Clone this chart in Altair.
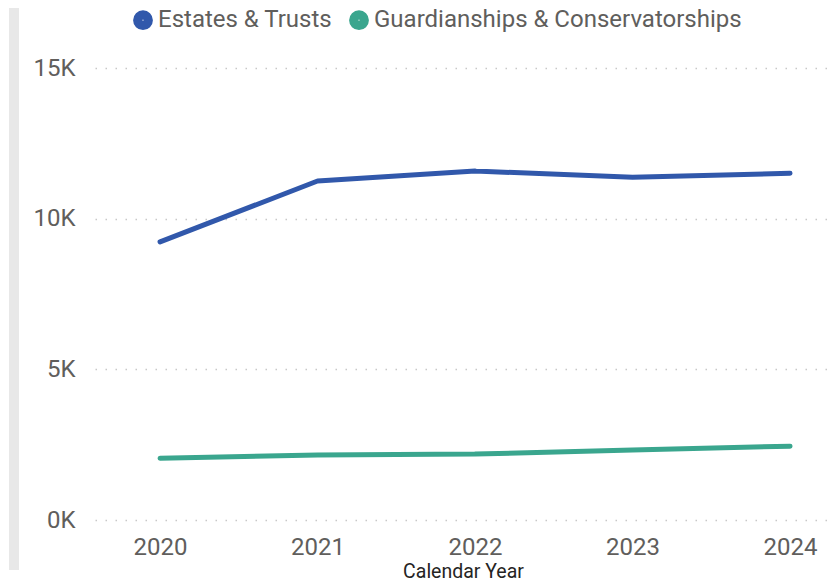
import altair as alt
import pandas as pd

years = [2020, 2021, 2022, 2023, 2024]
estates = [9230, 11250, 11580, 11375, 11505]
guardians = [2050, 2160, 2190, 2320, 2450]
series_names = ["Estates & Trusts", "Guardianships & Conservatorships"]
colors = ["#3158ab", "#3aa68e"]
y_ticks = [0, 5000, 10000, 15000]

rows = []
for y, v in zip(years, estates):
    rows.append({"year": y, "value": v, "series": series_names[0]})
for y, v in zip(years, guardians):
    rows.append({"year": y, "value": v, "series": series_names[1]})
df = pd.DataFrame(rows)

FONT = "Roboto"
LABEL_COLOR = "#605e5c"

lines = alt.Chart(df).mark_trail(size=5).encode(
    x=alt.X("year:Q",
            scale=alt.Scale(domain=[2019.587, 2024.26], nice=False, zero=False),
            axis=alt.Axis(values=years, format="d", title="Calendar Year", grid=False,
                          domain=False, ticks=False, labelPadding=15,
                          labelFontSize=24, labelColor=LABEL_COLOR, labelFont=FONT,
                          titleFont=FONT, titleFontSize=19.5, titleFontWeight="normal",
                          titleColor="#252423", titlePadding=3)),
    y=alt.Y("value:Q",
            scale=alt.Scale(domain=[0, 15000], nice=False),
            axis=alt.Axis(values=y_ticks, labelExpr="datum.value/1000 + 'K'", title=None,
                          domain=False, ticks=False, labelPadding=20,
                          labelFontSize=24, labelColor=LABEL_COLOR, labelFont=FONT,
                          grid=True, gridColor="#c8c8c8", gridDash=[1.5, 8.5],
                          gridWidth=1.5)),
    color=alt.Color("series:N",
                    scale=alt.Scale(domain=series_names, range=colors),
                    legend=alt.Legend(title=None, orient="none", direction="horizontal",
                                      legendX=36, legendY=-60,
                                      symbolType="circle", symbolSize=87,
                                      symbolStrokeWidth=10.5, symbolOpacity=1,
                                      labelFont=FONT, labelFontSize=24,
                                      labelColor=LABEL_COLOR, labelOffset=3,
                                      labelLimit=600, columnPadding=0)),
)

bar = alt.Chart(pd.DataFrame({"k": [0]})).mark_rule(color="#e8e8e8", strokeWidth=10).encode(
    x=alt.value(-81), y=alt.value(-68), y2=alt.value(502)
)

chart = alt.layer(bar, lines).properties(
    width=736, height=452,
    autosize=alt.AutoSizeParams(type="none"),
    padding={"left": 87, "top": 60, "right": 0, "bottom": 61},
).configure_view(stroke=None)

chart.save("out.html", embed_options={"renderer": "svg", "actions": False})
